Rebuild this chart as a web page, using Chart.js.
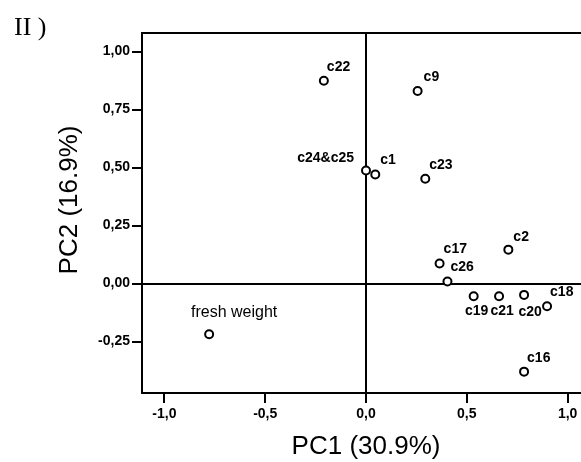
<!DOCTYPE html>
<html>
<head>
<meta charset="utf-8">
<script src="https://cdn.jsdelivr.net/npm/chart.js@4"></script>
<style>
  body { margin: 0; background: #fff; overflow: hidden; width: 581px; height: 462px; }
  #wrap { position: absolute; left: 0; top: 0; width: 600px; height: 462px; }
  #panel { position: absolute; left: 14px; top: 14px; font: 26px "Liberation Serif", serif; line-height: 1; color: #000; white-space: pre; }
</style>
</head>
<body>
<div id="wrap"><canvas id="pca" width="600" height="462"></canvas></div>
<div id="panel">II )</div>
<script>
// PCA loadings
const pointNames = ['c22', 'c9', 'c24&c25', 'c1', 'c23', 'c2', 'c17', 'c26', 'c19', 'c21', 'c20', 'c18', 'c16', 'fresh weight'];
const pc1 = [-0.209, 0.256, 0.0, 0.046, 0.294, 0.706, 0.365, 0.404, 0.534, 0.660, 0.784, 0.898, 0.784, -0.778];
const pc2 = [0.874, 0.830, 0.487, 0.470, 0.452, 0.146, 0.086, 0.009, -0.055, -0.055, -0.049, -0.098, -0.380, -0.219];

const xTicks = [-1.0, -0.5, 0.0, 0.5, 1.0];
const yTicks = [-0.25, 0.0, 0.25, 0.5, 0.75, 1.0];

// label placement relative to each point: [dx, dy, align]
const labelOffsets = [
  [3, -14, 'left'], [6, -14, 'left'], [-12, -12, 'right'], [5, -14, 'left'],
  [4, -14, 'left'], [5, -13, 'left'], [4, -14, 'left'], [3, -14, 'left'],
  [3, 15, 'center'], [3, 15, 'center'], [6, 17, 'center'], [3, -14, 'left'],
  [3, -14, 'left'], [25, -22, 'center']
];

const pointLabels = {
  id: 'pointLabels',
  afterDatasetsDraw(chart) {
    const ctx = chart.ctx;
    const meta = chart.getDatasetMeta(0);
    ctx.save();
    ctx.fillStyle = '#000';
    ctx.textBaseline = 'middle';
    meta.data.forEach((pt, i) => {
      const off = labelOffsets[i];
      ctx.font = pointNames[i] === 'fresh weight' ? '16px "Liberation Sans", Arial' : 'bold 14px "Liberation Sans", Arial';
      ctx.textAlign = off[2];
      ctx.fillText(pointNames[i], pt.x + off[0], pt.y + off[1]);
    });
    ctx.restore();
  }
};

// box round the plot + the y title (sits a bit above the middle in the original)
const frame = {
  id: 'frame',
  afterDraw(chart) {
    const a = chart.chartArea;
    const ctx = chart.ctx;
    ctx.save();
    ctx.strokeStyle = '#000';
    ctx.lineWidth = 2;
    ctx.strokeRect(a.left, a.top, a.right - a.left, a.bottom - a.top);

    ctx.translate(70, 200);
    ctx.rotate(-Math.PI / 2);
    ctx.font = '26px "Liberation Sans", Arial';
    ctx.fillStyle = '#000';
    ctx.textAlign = 'center';
    ctx.textBaseline = 'middle';
    ctx.fillText('PC2 (16.9%)', 0, 0);
    ctx.restore();
  }
};

const zeroLine = c => (c.tick && c.tick.value === 0) ? '#000' : 'rgba(0,0,0,0)';

new Chart(document.getElementById('pca'), {
  type: 'scatter',
  data: {
    datasets: [{
      data: pc1.map((x, i) => ({ x: x, y: pc2[i] })),
      pointStyle: 'circle',
      pointRadius: 4,
      pointHoverRadius: 4,
      pointBorderWidth: 2,
      pointBackgroundColor: '#fff',
      pointBorderColor: '#000'
    }]
  },
  options: {
    responsive: false,
    animation: false,
    layout: { padding: { top: 33, right: 10, left: 54, bottom: 0 } },
    plugins: { legend: { display: false }, tooltip: { enabled: false } },
    scales: {
      x: {
        min: -1.111, max: 1.111,
        afterBuildTicks: s => { s.ticks = xTicks.map(v => ({ value: v })); },
        afterFit: s => { s.height = 69; },
        grid: { color: zeroLine, lineWidth: 2, tickColor: '#000', tickWidth: 2, tickLength: 10 },
        border: { display: true, color: '#000', width: 2 },
        ticks: {
          padding: 3, color: '#000',
          font: { family: '"Liberation Sans", Arial', size: 14, weight: 'bold' },
          callback: v => v.toFixed(1).replace('.', ',')
        },
        title: {
          display: true, text: 'PC1 (30.9%)', color: '#000',
          font: { family: '"Liberation Sans", Arial', size: 26 },
          padding: 0
        }
      },
      y: {
        min: -0.472, max: 1.08,
        afterBuildTicks: s => { s.ticks = yTicks.map(v => ({ value: v })); },
        afterFit: s => { s.width = 88; },
        grid: { color: zeroLine, lineWidth: 2, tickColor: '#000', tickWidth: 2, tickLength: 10 },
        border: { display: true, color: '#000', width: 2 },
        ticks: {
          padding: 2, color: '#000',
          font: { family: '"Liberation Sans", Arial', size: 14, weight: 'bold' },
          callback: v => v.toFixed(2).replace('.', ',')
        },
        title: { display: false }
      }
    }
  },
  plugins: [pointLabels, frame]
});
</script>
</body>
</html>
